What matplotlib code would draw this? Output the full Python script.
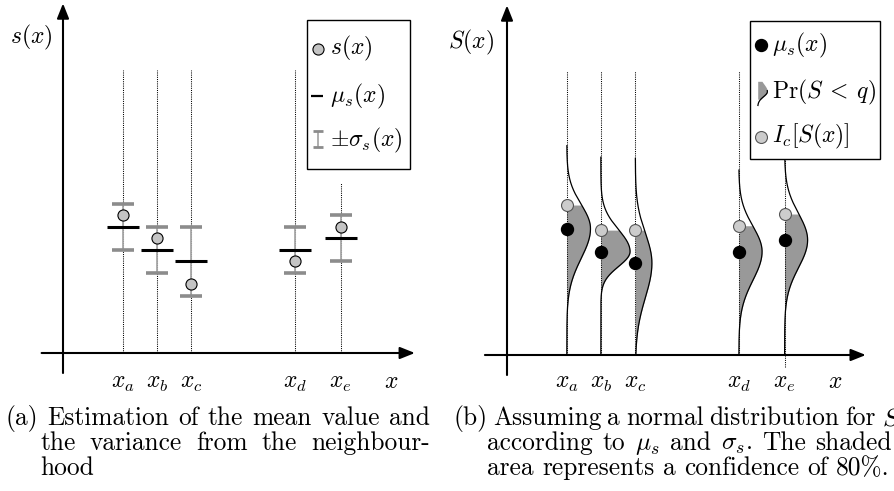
import numpy as np
import matplotlib
matplotlib.use('Agg')
import matplotlib.pyplot as plt
from matplotlib.patches import Rectangle

plt.rcParams['mathtext.fontset'] = 'cm'
plt.rcParams['font.family'] = 'cmr10'
plt.rcParams['axes.unicode_minus'] = False

# data (in sigma units of panel (a))
x_pos = [2.6, 4.08, 5.58, 10.08, 12.07]
tick_labels = [r'$x_a$', r'$x_b$', r'$x_c$', r'$x_d$', r'$x_e$']
s_vals = [6.0, 5.0, 3.0, 4.0, 5.5]
mu_vals = [5.5, 4.5, 4.0, 4.5, 5.0]
sigma_vals = [1.0, 1.0, 1.5, 1.0, 1.0]
guide_top_a = [12.3, 12.3, 12.3, 12.3, 7.4]

ic_vals = [6.52, 5.43, 5.43, 5.62, 6.13]
pdf_peak = [1.03, 1.27, 0.72, 1.01, 1.0]
pdf_sigma_up = [1.05, 0.95, 1.3, 1.1, 1.15]
pdf_sigma_lo = [1.3, 0.65, 1.5, 1.25, 1.2]
pdf_top = [9.1, 8.6, 8.55, 8.04, 9.0]
guide_bot_b = [0, 0, 0, 0, -0.52]
guide_top_b = [12.35, 12.35, 12.35, 12.35, 12.35]

W, H = 894, 491
U = 23.0
MATH = 17
CAP = 18.3

fig = plt.figure(figsize=(W / 100, H / 100), dpi=100)


def panel(ox, oy):
    x0, x1 = -1.2, 16.4
    y0, y1 = -1.2, 15.3
    ax = fig.add_axes([(ox + x0 * U) / W, (H - (oy - y0 * U)) / H,
                       (x1 - x0) * U / W, (y1 - y0) * U / H])
    ax.set_xlim(x0, x1)
    ax.set_ylim(y0, y1)
    ax.axis('off')
    return ax


def arrow(ax, start, tip):
    ax.annotate('', xy=tip, xytext=start, annotation_clip=False,
                arrowprops=dict(arrowstyle='-|>,head_length=0.45,head_width=0.18',
                                mutation_scale=20, lw=1.5, color='black',
                                shrinkA=0, shrinkB=0))


x = np.array(x_pos)
mu = np.array(mu_vals)
sd = np.array(sigma_vals)

# ---- panel (a)
ax = panel(63, 353)
arrow(ax, (-0.93, 0), (15.3, 0))
arrow(ax, (0, -0.87), (0, 15.2))
ax.vlines(x, 0, guide_top_a, colors='black', linestyles=(0, (1, 1.1)), lw=0.75, zorder=1)
ax.vlines(x, mu - sd, mu + sd, colors='#a8a8a8', lw=1.3, zorder=2)
ax.hlines(np.r_[mu - sd, mu + sd], np.r_[x, x] - 0.48, np.r_[x, x] + 0.48,
          colors='#8c8c8c', lw=2.6, zorder=2)
ax.hlines(mu, x - 0.7, x + 0.7, colors='black', lw=2.2, zorder=3)
ax.plot(x, s_vals, 'o', ms=8, mfc='#c4c4c4', mec='black', mew=0.8, zorder=4)
for xi, lab in zip(x_pos, tick_labels):
    ax.text(xi, -1.5, lab, fontsize=MATH, ha='center', va='baseline')
ax.text(14.29, -1.5, r'$x$', fontsize=MATH, ha='center', va='baseline')
ax.text(-1.39, 13.74, r'$s(x)$', fontsize=MATH, ha='center', va='center')

ax.add_patch(Rectangle((10.6, 8.0), 4.49, 6.48, fc='white', ec='black', lw=1.0, zorder=10))
ax.plot([11.09], [13.22], 'o', ms=8, mfc='#c4c4c4', mec='black', mew=0.8, zorder=11)
ax.hlines(11.17, 10.8, 11.3, colors='black', lw=1.6, zorder=11)
ax.vlines(11.09, 8.96, 9.65, colors='#a8a8a8', lw=1.3, zorder=11)
ax.hlines([8.96, 9.65], 10.87, 11.31, colors='#8c8c8c', lw=2, zorder=11)
ax.text(11.61, 13.22, r'$s(x)$', fontsize=MATH, va='center', zorder=12)
ax.text(11.61, 11.17, r'$\mu_s(x)$', fontsize=MATH, va='center', zorder=12)
ax.text(11.61, 9.26, r'$\pm\sigma_s(x)$', fontsize=MATH, va='center', zorder=12)

# ---- panel (b)
bx = panel(507, 355)
arrow(bx, (-0.96, 0), (15.6, 0))
arrow(bx, (0, -0.87), (0, 15.2))
bx.vlines(x, guide_bot_b, guide_top_b, colors='black', linestyles=(0, (1, 1.1)), lw=0.75, zorder=3)
for i in range(len(x_pos)):
    y = np.sort(np.append(np.linspace(0, pdf_top[i], 500), ic_vals[i]))
    z = np.where(y >= mu[i], (y - mu[i]) / pdf_sigma_up[i], (y - mu[i]) / pdf_sigma_lo[i])
    xc = x[i] + pdf_peak[i] * np.exp(-0.5 * z ** 2)
    bx.fill_betweenx(y, x[i], xc, where=y <= ic_vals[i], color='#999999', lw=0, zorder=2)
    bx.plot(xc, y, color='black', lw=0.9, zorder=4)
bx.plot(x, mu, 'o', ms=8.6, color='black', zorder=5)
bx.plot(x, ic_vals, 'o', ms=8.6, mfc='#cccccc', mec='#555555', mew=0.8, zorder=5)
for xi, lab in zip(x_pos, tick_labels):
    bx.text(xi, -1.45, lab, fontsize=MATH, ha='center', va='baseline')
bx.text(14.26, -1.45, r'$x$', fontsize=MATH, ha='center', va='baseline')
bx.text(-1.57, 13.6, r'$S(x)$', fontsize=MATH, ha='center', va='center')

bx.add_patch(Rectangle((10.55, 8.51), 5.65, 6.01, fc='white', ec='black', lw=1.0, zorder=10))
bx.plot([11.04], [13.48], 'o', ms=8.6, color='black', zorder=11)
bx.plot([11.04], [9.49], 'o', ms=8.6, mfc='#cccccc', mec='#555555', mew=0.8, zorder=11)
iy = np.linspace(10.85, 11.9, 120)
iz = np.where(iy >= 11.45, (iy - 11.45) / 0.35, (iy - 11.45) / 0.22)
ix = 10.9 + 0.42 * np.exp(-0.5 * iz ** 2)
bx.fill_betweenx(iy, 10.9, ix, where=iy >= 11.12, color='#999999', lw=0, zorder=11)
bx.plot(ix[iy <= 11.5], iy[iy <= 11.5], color='black', lw=0.9, zorder=11)
bx.text(11.52, 13.48, r'$\mu_s(x)$', fontsize=MATH, va='center', zorder=12)
bx.text(11.52, 11.42, r'$\mathrm{Pr}(S\:<\:q)$', fontsize=MATH, va='center', zorder=12)
bx.text(11.52, 9.49, r'$I_c[S(x)]$', fontsize=MATH, va='center', zorder=12)

# ---- captions
renderer = fig.canvas.get_renderer()


def line(words, x0, y, x1=None):
    ts = [fig.text(0, 1 - y / H, w, fontsize=CAP, va='baseline') for w in words]
    ws = [t.get_window_extent(renderer).width for t in ts]
    if x1 is None or len(ws) == 1:
        gap = 0.333 * CAP * 100 / 72
    else:
        gap = (x1 - x0 - sum(ws)) / (len(ws) - 1)
    pos = x0
    for t, w in zip(ts, ws):
        t.set_x(pos / W)
        pos += w + gap


line(['(a)', 'Estimation', 'of', 'the', 'mean', 'value', 'and'], 5, 425, 430)
line(['the', 'variance', 'from', 'the', 'neighbour-'], 40, 450, 430)
line(['hood'], 40, 475)
line(['(b)', 'Assuming', 'a', 'normal', 'distribution', 'for', r'$S$'], 453, 425, 900)
line(['according', 'to', r'$\mu_s$', 'and', r'$\sigma_s$.', 'The', 'shaded'], 487, 450, 892)
line(['area', 'represents', 'a', 'confidence', 'of', '80%.'], 487, 475)

fig.savefig('out.png', dpi=100)
